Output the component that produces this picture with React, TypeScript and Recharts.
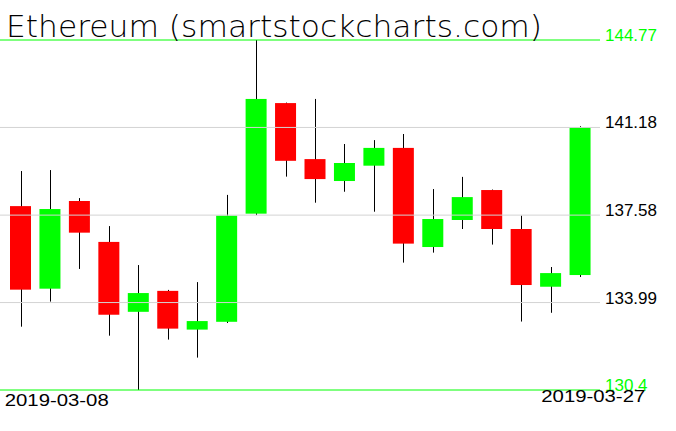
import { Bar, ComposedChart, ReferenceLine, XAxis, YAxis } from 'recharts';

const TITLE = 'Ethereum (smartstockcharts.com)';

const dates = [
  '2019-03-08', '2019-03-09', '2019-03-10', '2019-03-11', '2019-03-12',
  '2019-03-13', '2019-03-14', '2019-03-15', '2019-03-16', '2019-03-17',
  '2019-03-18', '2019-03-19', '2019-03-20', '2019-03-21', '2019-03-22',
  '2019-03-23', '2019-03-24', '2019-03-25', '2019-03-26', '2019-03-27',
];
const opens = [
  137.95, 134.56, 138.16, 136.48, 133.61, 134.47, 132.88, 133.2, 137.64, 142.18,
  139.88, 138.98, 139.61, 140.34, 136.27, 137.38, 138.61, 137.01, 134.64, 135.12,
];
const highs = [
  139.39, 139.43, 138.28, 137.13, 135.53, 134.51, 134.83, 138.41, 144.77, 142.2,
  142.35, 140.5, 140.66, 140.91, 138.65, 139.15, 138.63, 137.56, 135.45, 141.23,
];
const lows = [
  133.0, 134.03, 135.37, 132.63, 130.4, 132.47, 131.73, 133.15, 137.58, 139.16,
  138.09, 138.54, 137.72, 135.63, 136.04, 137.01, 136.37, 133.21, 133.57, 135.04,
];
const closes = [
  134.52, 137.83, 136.86, 133.49, 134.38, 132.92, 133.23, 137.56, 142.35, 139.81,
  139.06, 139.72, 140.34, 136.41, 137.42, 138.32, 137.01, 134.71, 135.2, 141.19,
];

const gridTicks = [133.99, 137.58, 141.18];
const yMin = 130.4;
const yMax = 144.77;

const data = dates.map((date, i) => ({
  date,
  open: opens[i],
  high: highs[i],
  low: lows[i],
  close: closes[i],
  range: [lows[i], highs[i]],
}));

const UP = '#00ff00';
const DOWN = '#ff0000';
const GRID = '#d3d3d3';
const FONT = '"Liberation Sans", Arial, sans-serif';

function Candle(props: any) {
  const { x, y, width, height, payload } = props;
  const top = Math.min(y, y + height);
  const h = Math.abs(height);
  const { open, close, high, low } = payload;
  const toPx = (v: number) => top + ((high - v) / (high - low || 1)) * h;
  const cx = Math.round(x + width / 2) + 0.5;
  const bodyTop = toPx(Math.max(open, close));
  const bodyBot = toPx(Math.min(open, close));
  return (
    <g>
      <line x1={cx} x2={cx} y1={top} y2={top + h} stroke="#000" strokeWidth={1} />
      <rect
        x={x}
        y={bodyTop}
        width={width}
        height={Math.max(bodyBot - bodyTop, 1)}
        fill={close >= open ? UP : DOWN}
      />
    </g>
  );
}

function PriceLabel({ viewBox, value, color }: any) {
  return (
    <text
      x={viewBox.x + viewBox.width + 5}
      y={viewBox.y + 1}
      fill={color}
      fontFamily={FONT}
      fontSize={17}
    >
      {value}
    </text>
  );
}

function DateTick(props: any) {
  const { x, y, payload, index } = props;
  const first = index === 0;
  return (
    <text
      x={first ? x - 16 : x - 39}
      y={first ? y + 8 : y + 4}
      fill="#000"
      fontFamily={FONT}
      fontSize={17}
      textLength={104}
      lengthAdjust="spacingAndGlyphs"
    >
      {payload.value}
    </text>
  );
}

export default function App() {
  return (
    <div style={{ position: 'relative', width: 676, height: 431, background: '#fff' }}>
      <style>{'body{margin:0}'}</style>
      <ComposedChart
        width={676}
        height={431}
        data={data}
        margin={{ top: 40, right: 76, bottom: 0, left: 0 }}
      >
        <XAxis
          dataKey="date"
          axisLine={false}
          tickLine={false}
          ticks={[dates[0], dates[dates.length - 1]]}
          interval={0}
          padding={{ left: 6, right: 5 }}
          tick={<DateTick />}
          height={41}
        />
        <YAxis hide domain={[yMin, yMax]} allowDataOverflow />
        {gridTicks.map((t) => (
          <ReferenceLine
            key={t}
            y={t}
            stroke={GRID}
            label={<PriceLabel value={t.toFixed(2)} color="#000" />}
          />
        ))}
        <ReferenceLine y={yMax} stroke={UP} label={<PriceLabel value={yMax.toFixed(2)} color={UP} />} />
        <ReferenceLine y={yMin} stroke={UP} label={<PriceLabel value={String(yMin)} color={UP} />} />
        <Bar dataKey="range" barSize={21} shape={<Candle />} isAnimationActive={false} />
      </ComposedChart>
      <svg
        width={676}
        height={50}
        style={{ position: 'absolute', left: 0, top: 0, pointerEvents: 'none' }}
      >
        <text
          x={6}
          y={37}
          fontFamily='"DejaVu Sans", sans-serif'
          fontWeight={200}
          fontSize={30}
          textLength={536}
          lengthAdjust="spacingAndGlyphs"
          fill="#000"
        >
          {TITLE}
        </text>
      </svg>
    </div>
  );
}
